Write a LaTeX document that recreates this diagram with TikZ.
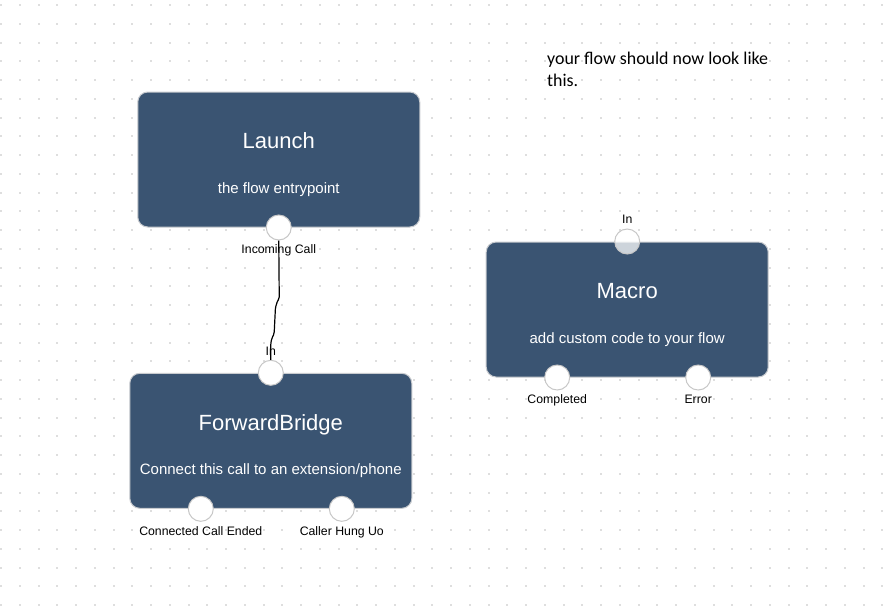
\documentclass[tikz,border=0pt]{standalone}
\usepackage{fontspec}
\usetikzlibrary{calc}
\setmainfont{Liberation Sans}
\newfontfamily\carlitofont{Carlito}
\definecolor{boxblue}{RGB}{58,84,114}
\definecolor{dotgray}{RGB}{222,222,222}
\definecolor{edgegray}{RGB}{200,203,207}
\begin{document}
\begin{tikzpicture}[x=1pt,y=-1pt,
  flowbox/.style={draw=edgegray, line width=1pt, fill=boxblue, rounded corners=10pt, minimum width=282pt, minimum height=135pt, inner sep=0pt},
  port/.style={circle, draw=black!22, line width=1pt, fill=white, minimum size=25pt, inner sep=0pt},
  boxtitle/.style={text=white, inner sep=0pt, text height=7.2pt, text depth=2.1pt, font=\fontsize{22}{26}\selectfont},
  boxsub/.style={text=white, inner sep=0pt, text height=7.2pt, text depth=2.1pt, font=\fontsize{15}{18}\selectfont},
  plabel/.style={text=black, inner sep=0pt, text height=7.2pt, text depth=2.1pt, font=\fontsize{12.3}{14}\selectfont},
  wire/.style={draw=black, line width=1.2pt, rounded corners=1.5pt},
]
\fill[white] (0,0) rectangle (893,611);
\useasboundingbox (0,0) rectangle (893,611);
\foreach \i in {0,...,47}{
  \foreach \j in {0,...,32}{
    \fill[dotgray] (\i*18.75,4+\j*18.75) rectangle ++(2,2);
  }
}
% note
\node[anchor=west, align=left, inner sep=0pt, font=\carlitofont\fontsize{17.9}{22}\selectfont] (note) at (547,69.5) {your flow should now look like\\this.};
% boxes
\node[flowbox] (launch) at (278.75,159.5) {};
\node[flowbox] (fb) at (270.8,440.8) {};
\node[flowbox] (macro) at (627.2,309.5) {};
% titles
\node[boxtitle] (launchT) at ($(launch.north)+(0,54.5)$) {Launch};
\node[boxsub] (launchS) at ($(launch.north)+(0,99.5)$) {the flow entrypoint};
\node[boxtitle] (fbT) at ($(fb.north)+(0,55)$) {ForwardBridge};
\node[boxsub] (fbS) at ($(fb.north)+(0,99.5)$) {Connect this call to an extension/phone};
\node[boxtitle] (macroT) at ($(macro.north)+(0,54.5)$) {Macro};
\node[boxsub] (macroS) at ($(macro.north)+(0,99.5)$) {add custom code to your flow};
% ports
\node[port] (lout) at (launch.south) {};
\node[port] (fbin) at (fb.north) {};
\node[port] (fbo1) at ($(fb.south)+(-70,0)$) {};
\node[port] (fbo2) at ($(fb.south)+(71,0)$) {};
\node[port, fill opacity=0.75] (min) at (macro.north) {};
\node[port] (mo1) at ($(macro.south)+(-70,0)$) {};
\node[port] (mo2) at ($(macro.south)+(71,0)$) {};
% port labels
\node[plabel] (loutL) at ($(lout)+(0,23.5)$) {Incoming Call};
\node[plabel] (fbinL) at ($(fbin)+(0,-20)$) {In};
\node[plabel] (fbo1L) at ($(fbo1)+(0,24)$) {Connected Call Ended};
\node[plabel] (fbo2L) at ($(fbo2)+(0,24)$) {Caller Hung Uo};
\node[plabel] (minL) at ($(min)+(0,-20.5)$) {In};
\node[plabel] (mo1L) at ($(mo1)+(0,23.5)$) {Completed};
\node[plabel] (mo2L) at ($(mo2)+(0,23.5)$) {Error};
% connector
\draw[wire] (lout.south) -- ++(0.5,58) -- ++(-1.6,2) -- ++(-2.2,7) -- ++(-1.3,26) -- ++(-2.3,5) -- ++(-1,4) -- (fbin.north);
\end{tikzpicture}
\end{document}
